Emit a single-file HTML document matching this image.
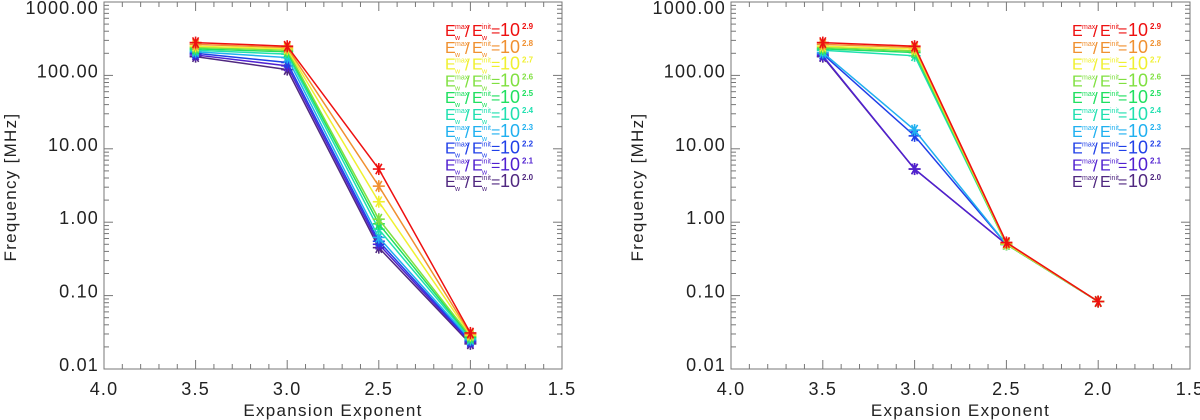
<!DOCTYPE html>
<html><head><meta charset="utf-8"><style>
body{margin:0;background:#fff;}
svg{display:block;font-family:"Liberation Sans",sans-serif;}
</style></head><body>
<svg id="chart" width="1200" height="420"></svg>
<script>
const xCats = [3.5, 3.0, 2.5, 2.0];
const yTickLabels = ["0.01","0.10","1.00","10.00","100.00","1000.00"];
const xTickLabels = ["4.0","3.5","3.0","2.5","2.0","1.5"];
const legendExp = ["2.9","2.8","2.7","2.6","2.5","2.4","2.3","2.2","2.1","2.0"];
const legendExpRight = ["2.9","2.8","2.7","2.6","2.5","2.4","2.3","2.2","2.1","2.0"];
const colors = ["#ee1010","#f09030","#f0f030","#80e040","#20e060","#20e0b0","#20b0f0","#2040e8","#5020d0","#502880"];
// left panel values (series order matches legend)
const leftS0 = [280, 250, 5.3, 0.031];
const leftS1 = [265, 240, 3.1, 0.030];
const leftS2 = [250, 230, 1.9, 0.029];
const leftS3 = [240, 220, 1.1, 0.028];
const leftS4 = [230, 210, 0.95, 0.027];
const leftS5 = [220, 195, 0.8, 0.026];
const leftS6 = [210, 175, 0.62, 0.025];
const leftS7 = [200, 150, 0.55, 0.024];
const leftS8 = [190, 135, 0.5, 0.023];
const leftS9 = [180, 120, 0.45, 0.022];
// right panel values
const rightS0 = [280, 250, 0.53, 0.083];
const rightS1 = [265, 240, 0.52, 0.083];
const rightS2 = [250, 228, 0.51, 0.083];
const rightS3 = [240, 215, 0.5, 0.083];
const rightS4 = [230, 205, 0.5, 0.083];
const rightS5 = [220, 185, 0.5, 0.083];
const rightS6 = [205, 18, 0.5, 0.083];
const rightS7 = [195, 15, 0.5, 0.083];
const rightS8 = [185, 5.3, 0.5, 0.083];
const rightS9 = [180, 5.3, 0.5, 0.083];
const leftSeries = [leftS0,leftS1,leftS2,leftS3,leftS4,leftS5,leftS6,leftS7,leftS8,leftS9];
const rightSeries = [rightS0,rightS1,rightS2,rightS3,rightS4,rightS5,rightS6,rightS7,rightS8,rightS9];

const NS="http://www.w3.org/2000/svg";
const svg=document.getElementById('chart');
function mk(tag,attrs,parent){const e=document.createElementNS(NS,tag);for(const k in attrs)e.setAttribute(k,attrs[k]);(parent||svg).appendChild(e);return e;}
function txt(parent,x,y,size,fill,s){const e=mk('text',{x:x,y:y,'font-size':size,fill:fill},parent);e.textContent=s;return e;}

function panel(x0,x1,series,legend,withW,pname){
  const y0=2,y1=369;
  const g=mk('g',{});
  
  
  const xs=v=>x0+(4.0-v)/2.5*(x1-x0);
  const ys=v=>y1-(Math.log10(v)+2)/5*(y1-y0);
  const frame=mk('rect',{x:x0,y:y0,width:x1-x0,height:y1-y0,fill:'none',stroke:'#777','stroke-width':1},g);
  
  
  for(let d=0;d<5;d++){for(let m=1;m<=9;m++){const v=Math.pow(10,d-2)*m;const y=ys(v);const L=m===1?9:5;
    mk('line',{x1:x0,x2:x0+L,y1:y,y2:y,stroke:'#777'},g);mk('line',{x1:x1,x2:x1-L,y1:y,y2:y,stroke:'#777'},g);}}
  yTickLabels.forEach((t,i)=>{const v=Math.pow(10,i-2);const e=mk('text',{x:x0-5,y:Math.max(ys(v)+2,14),'text-anchor':'end','font-size':18,fill:'#222','letter-spacing':'1.2'},g);e.textContent=t;
    });
  for(let k=0;k<=25;k++){const v=4.0-k*0.1;const x=xs(v);const L=k%5===0?9:5;
    mk('line',{x1:x,x2:x,y1:y1,y2:y1-L,stroke:'#777'},g);mk('line',{x1:x,x2:x,y1:y0,y2:y0+L,stroke:'#777'},g);}
  xTickLabels.forEach(t=>{const e=mk('text',{x:xs(parseFloat(t)),y:395,'text-anchor':'middle','font-size':18,fill:'#222','letter-spacing':'1.2'},g);e.textContent=t;
    });
  const xt=mk('text',{x:(x0+x1)/2,y:416,'text-anchor':'middle','font-size':17,fill:'#222','letter-spacing':'1.3'},g);xt.textContent='Expansion Exponent';
  
  const yt=mk('text',{x:0,y:0,'text-anchor':'middle','font-size':17,fill:'#222','letter-spacing':'1.3',transform:`translate(${x0-88},187) rotate(-90)`},g);yt.textContent='Frequency [MHz]';
  
  for(let s=series.length-1;s>=0;s--){const vals=series[s];const c=colors[s];
    const pts=vals.map((v,i)=>xs(xCats[i])+','+ys(v)).join(' ');
    const pl=mk('polyline',{points:pts,fill:'none',stroke:c,'stroke-width':1.5},g);
    
    vals.forEach((v,i)=>{const cx=xs(xCats[i]),cy=ys(v),r=6;
      const m=mk('g',{stroke:c,'stroke-width':1.6},g);
      
      mk('line',{x1:cx-r,x2:cx+r,y1:cy,y2:cy},m);
      mk('line',{x1:cx-r*0.5,x2:cx+r*0.5,y1:cy-r*0.87,y2:cy+r*0.87},m);
      mk('line',{x1:cx+r*0.5,x2:cx-r*0.5,y1:cy-r*0.87,y2:cy+r*0.87},m);
      mk('line',{x1:cx,x2:cx,y1:cy-r,y2:cy+r},m);});
  }
  const lx=withW?445:1072;
  legend.forEach((ex,i)=>{const y=36+i*16.8;const c=colors[i];
    const lg=mk('g',{},g);
    
    const o = withW ? [0,10,20,27,37,46,55,77] : [0,10,21,28,38,46,56,78];
    txt(lg,lx+o[0],y,16,c,'E');
    txt(lg,lx+o[1],y-7,7,c,'max');
    if(withW) txt(lg,lx+o[1],y+4,7,c,'w');
    txt(lg,lx+o[2],y+1,17,c,'/');
    txt(lg,lx+o[3],y,16,c,'E');
    txt(lg,lx+o[4],y-7,7,c,'init');
    if(withW) txt(lg,lx+o[4],y+4,7,c,'w');
    txt(lg,lx+o[5],y,16,c,'=');
    const t10=txt(lg,lx+o[6],y,18,c,'10');
    const te=txt(lg,lx+o[7],y-7,8,c,ex);te.setAttribute('font-weight','bold');
  });
}
panel(104,562,leftSeries,legendExp,true,'left-panel');
panel(731,1190,rightSeries,legendExpRight,false,'right-panel');
</script>
</body></html>
